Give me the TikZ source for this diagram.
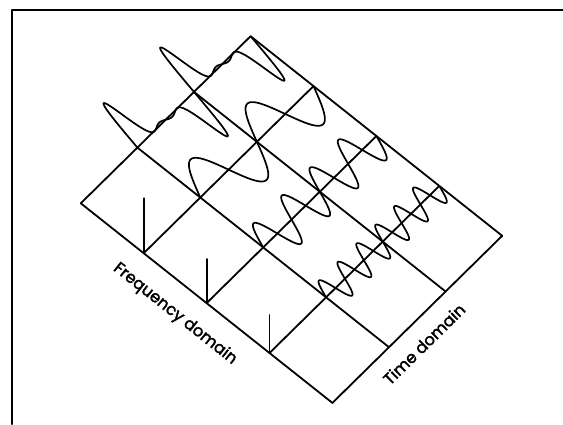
\documentclass[tikz,border=0pt]{standalone}
\usepackage{fontspec}
\setmainfont{Poppins}
\newfontfamily\labfont{Poppins}[FakeBold=2]
\begin{document}
\begin{tikzpicture}[x=1pt,y=-1pt,line join=round,line cap=round,
  gridline/.style={line width=1.8pt},
  wave/.style={line width=1.7pt},
  specline/.style={line width=1.8pt},
  axislabel/.style={font=\labfont\fontsize{16.2}{16.2}\selectfont,inner sep=0pt},
  declare function={hb(\x)=min(\x,6)*exp((1-min(\x,6)*min(\x,6))/2);
                    comp(\p)=53*(hb(\p/0.09)-hb((1-\p)/0.09))+2.5*sin(1080*\p);}]
\useasboundingbox (0,0) rectangle (563,424);
% frame
\draw[line width=2.4pt] (12,424) -- (12,10) -- (563,10);
\def\Lx{80.8}\def\Ly{203.3}
\def\Ux{62.9}\def\Uy{49.9}
\def\Vx{56.6}\def\Vy{-55.7}
\def\Dx{-0.70}\def\Dy{-0.71}
% grid points g<i><j>: i along frequency (0..4), j along time (0..3)
\foreach \i in {0,...,4}{
  \foreach \j in {0,...,3}{
    \coordinate (g\i\j) at ({\Lx+\i*\Ux+\j*\Vx},{\Ly+\i*\Uy+\j*\Vy});
  }
}
\foreach \j in {0,...,3} \draw[gridline] (g0\j) -- (g4\j);
\foreach \i in {0,...,4} \draw[gridline] (g\i0) -- (g\i3);
% spectral lines
\coordinate (s1) at ([yshift=55pt]g10);
\coordinate (s2) at ([yshift=44pt]g20);
\coordinate (s3) at ([yshift=38pt]g30);
\draw[specline] (s1) -- (g10);
\draw[specline] (s2) -- (g20);
\draw[specline] (s3) -- (g30);
% component waves
\draw[wave] plot[domain=1:3,samples=200,variable=\t]
  ({\Lx+1*\Ux+\t*\Vx+34*sin(360*(\t-1))*\Dx},{\Ly+1*\Uy+\t*\Vy+34*sin(360*(\t-1))*\Dy});
\draw[wave] plot[domain=1:3,samples=300,variable=\t]
  ({\Lx+2*\Ux+\t*\Vx+24*sin(720*(\t-1))*\Dx},{\Ly+2*\Uy+\t*\Vy+24*sin(720*(\t-1))*\Dy});
\draw[wave] plot[domain=1:3,samples=400,variable=\t]
  ({\Lx+3*\Ux+\t*\Vx+17*sin(1080*(\t-1))*\Dx},{\Ly+3*\Uy+\t*\Vy+17*sin(1080*(\t-1))*\Dy});
% composite wave (two periods)
\draw[wave] plot[domain=1:2,samples=250,variable=\t]
  ({\Lx+\t*\Vx+comp(\t-1)*\Dx},{\Ly+\t*\Vy+comp(\t-1)*\Dy});
\draw[wave] plot[domain=2:3,samples=250,variable=\t]
  ({\Lx+\t*\Vx+comp(\t-2)*\Dx},{\Ly+\t*\Vy+comp(\t-2)*\Dy});
% labels
\node[axislabel,rotate=-38.4] (fd) at (175,314) {Frequency domain};
\node[axislabel,rotate=44.5] (td) at (424,344) {Time domain};
\end{tikzpicture}
\end{document}
